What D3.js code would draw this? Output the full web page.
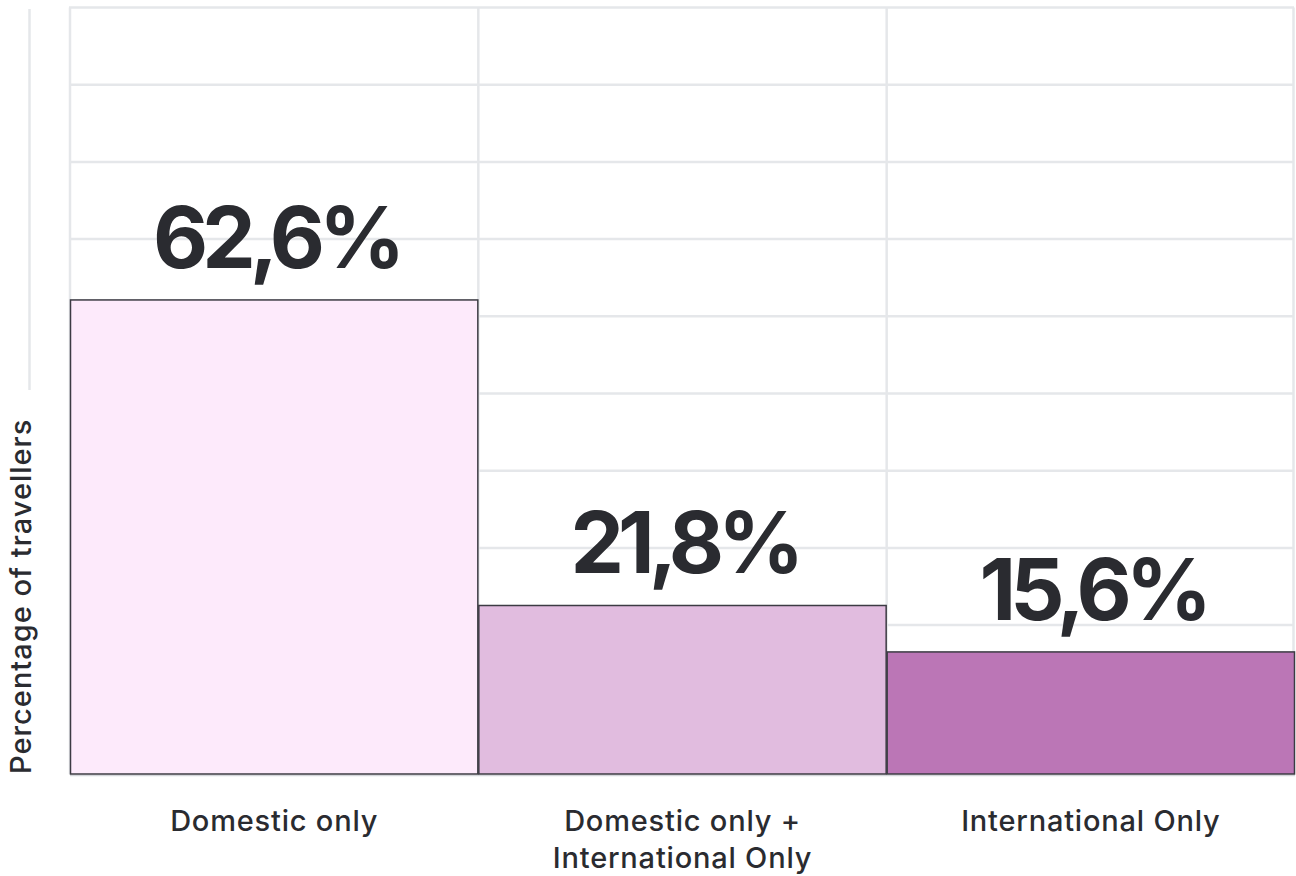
<!DOCTYPE html>
<html>
<head>
<meta charset="utf-8">
<script src="https://cdn.jsdelivr.net/npm/d3@7/dist/d3.min.js"></script>
<style>
  html, body { margin: 0; padding: 0; background: #ffffff; }
  svg { display: block; }
  text { font-family: Inter, "Noto Sans", sans-serif; fill: #2a2b30; }
</style>
</head>
<body>
<svg id="chart" width="1296" height="876"></svg>
<script>
// Share of travellers by trip type
const categories = ["Domestic only", "Domestic only +\nInternational Only", "International Only"];
const values = [62.6, 21.8, 15.6];
const valueLabels = ["62,6%", "21,8%", "15,6%"];
const barColors = ["#fdeafb", "#e1bcdf", "#bb76b6"];
const axisTitle = "Percentage of travellers";

const W = 1296, H = 876;
const plot = { left: 70, right: 1295, top: 7.5, bottom: 774 };

const svg = d3.select("#chart");

const x = d3.scaleBand()
  .domain(categories)
  .range([plot.left, plot.right])
  .paddingInner(0)
  .paddingOuter(0);

const y = d3.scaleLinear()
  .domain([-0.7, 101.65])
  .range([plot.bottom, plot.top]);

// background grid: ten evenly spaced rows from the top edge
const rowStep = 77.2;
const gridRows = d3.range(10).map(i => plot.top + i * rowStep);

const grid = svg.append("g").attr("class", "grid");
grid.selectAll("line.h")
  .data(gridRows)
  .join("line")
  .attr("class", "h")
  .attr("x1", plot.left - 1)
  .attr("x2", plot.right - 1)
  .attr("y1", d => d)
  .attr("y2", d => d)
  .attr("stroke", "#e5e7ea")
  .attr("stroke-width", 2.5);

const colEdges = categories.map(c => x(c)).concat([x(categories[categories.length - 1]) + x.bandwidth()]);
grid.selectAll("line.v")
  .data(colEdges)
  .join("line")
  .attr("class", "v")
  .attr("x1", d => Math.min(d, plot.right - 1.5))
  .attr("x2", d => Math.min(d, plot.right - 1.5))
  .attr("y1", plot.top)
  .attr("y2", plot.bottom)
  .attr("stroke", "#e5e7ea")
  .attr("stroke-width", 2.5);

grid.append("line")
  .attr("x1", plot.left)
  .attr("x2", plot.right)
  .attr("y1", plot.bottom + 1.5)
  .attr("y2", plot.bottom + 1.5)
  .attr("stroke", "#d4d6da")
  .attr("stroke-width", 1.5);

// short rule above the axis title
svg.append("line")
  .attr("x1", 29.5).attr("x2", 29.5)
  .attr("y1", 9).attr("y2", 390)
  .attr("stroke", "#e5e7ea")
  .attr("stroke-width", 2.5);

// bars
svg.append("g")
  .selectAll("rect")
  .data(categories)
  .join("rect")
  .attr("x", d => x(d) + 0.5)
  .attr("width", x.bandwidth() - 1)
  .attr("y", (d, i) => y(values[i]))
  .attr("height", (d, i) => plot.bottom - y(values[i]))
  .attr("fill", (d, i) => barColors[i])
  .attr("stroke", "#3c3b43")
  .attr("stroke-width", 1.5);

// value labels
svg.append("g")
  .selectAll("text")
  .data(categories)
  .join("text")
  .attr("x", d => x(d) + x.bandwidth() / 2 + 2)
  .attr("y", (d, i) => y(values[i]) - 32)
  .attr("text-anchor", "middle")
  .style("font-size", "85px")
  .style("font-weight", 700)
  .style("letter-spacing", "-6px")
  .text((d, i) => valueLabels[i]);

// category labels
const catG = svg.append("g");
categories.forEach(c => {
  const lines = c.split("\n");
  const t = catG.append("text")
    .attr("x", x(c) + x.bandwidth() / 2)
    .attr("y", 831)
    .attr("text-anchor", "middle")
    .style("font-size", "29px")
    .style("font-weight", 500)
    .style("letter-spacing", "0.8px");
  lines.forEach((ln, j) => {
    t.append("tspan")
      .attr("x", x(c) + x.bandwidth() / 2)
      .attr("dy", j === 0 ? 0 : 37)
      .text(ln);
  });
});

// y axis title
svg.append("text")
  .attr("transform", "translate(31,774) rotate(-90)")
  .attr("text-anchor", "start")
  .style("font-size", "29px")
  .style("font-weight", 500)
  .style("letter-spacing", "1px")
  .text(axisTitle);
</script>
</body>
</html>
